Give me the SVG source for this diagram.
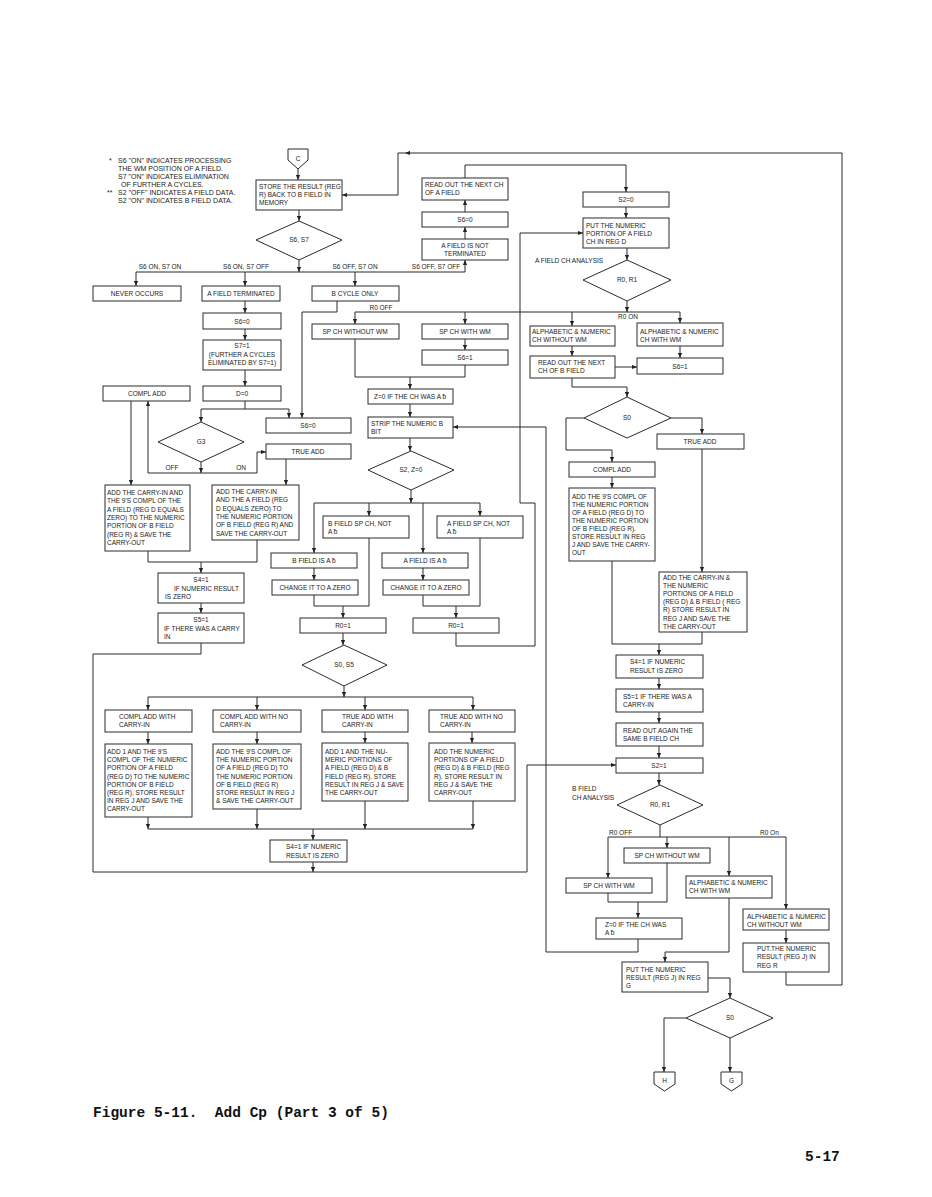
<svg xmlns="http://www.w3.org/2000/svg" width="932" height="1197" viewBox="0 0 932 1197">
<defs>
<marker id="a" viewBox="0 0 6 6" refX="6" refY="3" markerWidth="5" markerHeight="5" orient="auto" markerUnits="userSpaceOnUse"><path d="M0,0.5 L6,3 L0,5.5 z" fill="#222"/></marker>
<style>
.b{fill:#fff;stroke:#2a2a2a;stroke-width:1}
.t{font-family:"Liberation Sans",Arial,"DejaVu Sans",sans-serif;font-size:6.5px;fill:#222}
.n{font-size:7px}
.c{text-anchor:middle}
.l{fill:none;stroke:#2a2a2a;stroke-width:1}
.m{marker-end:url(#a)}
.ti{font-family:"Liberation Mono","Courier New",monospace;font-weight:bold;font-size:14.5px;fill:#111}
</style>
</defs>
<rect width="932" height="1197" fill="#fff"/>

<g id="connectors" class="l">
<path class="m" d="M298,169 V180"/>
<path class="m" d="M299,210 V221"/>
<path class="m" d="M299,260 V272"/>
<path d="M136,272 H465"/>
<path class="m" d="M136,272 V286"/>
<path class="m" d="M245,272 V286"/>
<path class="m" d="M355,272 V286"/>
<path class="m" d="M465,272 V260"/>
<path class="m" d="M465,239 V227"/>
<path class="m" d="M465,212 V200"/>
<path class="m" d="M465,178 V165 H626 V192"/>
<path class="m" d="M626,207 V218"/>
<path class="m" d="M627,248 V260"/>
<path class="m" d="M627,301 V312"/>
<path d="M355,312 H680"/>
<path class="m" d="M355,312 V324"/>
<path class="m" d="M465,312 V324"/>
<path class="m" d="M572,312 V326"/>
<path class="m" d="M680,312 V323"/>
<path class="m" d="M465,339 V350"/>
<path d="M355,339 V377 H465 V365"/>
<path class="m" d="M410,377 V389"/>
<path class="m" d="M410,404 V417"/>
<path class="m" d="M410,438 V451"/>
<path class="m" d="M411,490 V503"/>
<path d="M314,503 H480"/>
<path class="m" d="M314,503 V553"/>
<path class="m" d="M369,503 V516"/>
<path class="m" d="M423,503 V553"/>
<path class="m" d="M480,503 V516"/>
<path class="m" d="M314,568 V580"/>
<path class="m" d="M423,568 V580"/>
<path d="M314,595 V606 H369 V538"/>
<path class="m" d="M343,606 V618"/>
<path d="M423,595 V606 H480 V538"/>
<path class="m" d="M456,606 V618"/>
<path class="m" d="M343,633 V645"/>
<path class="m" d="M456,633 V646 H535 V503 H520 V233 H583"/>
<path class="m" d="M344,686 V697"/>
<path d="M148,697 H473"/>
<path class="m" d="M148,697 V710"/>
<path class="m" d="M257,697 V710"/>
<path class="m" d="M365,697 V710"/>
<path class="m" d="M473,697 V710"/>
<path class="m" d="M148,732 V744"/>
<path class="m" d="M257,732 V744"/>
<path class="m" d="M365,732 V743"/>
<path class="m" d="M472,732 V743"/>
<path class="m" d="M148,817 V829"/>
<path class="m" d="M257,809 V829"/>
<path class="m" d="M365,801 V829"/>
<path class="m" d="M473,801 V829"/>
<path d="M148,829 H473"/>
<path class="m" d="M313,829 V840"/>
<path class="m" d="M313,862 V872"/>
<path class="m" d="M201,643 V654 H93 V872 H527 V765 H616"/>
<path class="m" d="M245,301 V313"/>
<path class="m" d="M245,329 V340"/>
<path class="m" d="M245,370 V386"/>
<path d="M245,401 V409"/>
<path d="M201,409 H289"/>
<path class="m" d="M201,409 V422"/>
<path class="m" d="M289,409 V418"/>
<path class="m" d="M337,301 V312 H302 V418"/>
<path class="m" d="M201,462 V473"/>
<path d="M148,473 H257"/>
<path class="m" d="M148,473 V401"/>
<path class="m" d="M257,473 V452 H266"/>
<path class="m" d="M131,401 V485"/>
<path class="m" d="M286,459 V485"/>
<path d="M148,551 V562 H257 V540"/>
<path class="m" d="M201,562 V573"/>
<path class="m" d="M201,603 V613"/>
<path class="m" d="M680,346 V358"/>
<path class="m" d="M572,346 V356"/>
<path class="m" d="M615,367 H637"/>
<path class="m" d="M572,378 V387 H627 V397"/>
<path class="m" d="M584,418 H566 V450 H612 V462"/>
<path class="m" d="M671,418 H702 V434"/>
<path class="m" d="M612,477 V488"/>
<path class="m" d="M702,449 V572"/>
<path d="M612,561 V644 H702 V632"/>
<path class="m" d="M659,644 V655"/>
<path class="m" d="M659,678 V689"/>
<path class="m" d="M659,712 V723"/>
<path class="m" d="M659,746 V758"/>
<path class="m" d="M659,773 V785"/>
<path d="M660,825 V837"/>
<path d="M608,837 H786"/>
<path class="m" d="M608,837 V878"/>
<path class="m" d="M667,837 V848"/>
<path class="m" d="M729,837 V876"/>
<path class="m" d="M786,837 V909"/>
<path d="M608,893 V902 H667 V863"/>
<path class="m" d="M638,902 V918"/>
<path class="m" d="M638,939 V952 H546 V427 H453"/>
<path class="m" d="M729,898 V952 H665 V962"/>
<path class="m" d="M786,930 V943"/>
<path class="m" d="M786,972 V985 H842 V153 H405"/>
<path class="m" d="M405,153 H398 V195 H342"/>
<path class="m" d="M708,978 H730 V998"/>
<path class="m" d="M686,1018 H664 V1072"/>
<path class="m" d="M730,1038 V1072"/>
</g>

<g id="labels" class="t">
<text x="160" y="269" class="c">S6 ON, S7 ON</text>
<text x="246" y="269" class="c">S6 ON,  S7 OFF</text>
<text x="355" y="269" class="c">S6 OFF,  S7 ON</text>
<text x="436" y="269" class="c">S6 OFF, S7 OFF</text>
<text x="381" y="309.5" class="c">R0 OFF</text>
<text x="628" y="319" class="c">R0 ON</text>
<text x="535" y="263">A FIELD CH ANALYSIS</text>
<text x="172" y="470" class="c">OFF</text>
<text x="241" y="470" class="c">ON</text>
<text x="572" y="791">B FIELD</text>
<text x="572" y="800">CH ANALYSIS</text>
<text x="609" y="835">R0 OFF</text>
<text x="760" y="835">R0 On</text>
</g>

<g id="notes" class="t n">
<text x="109" y="163">*</text>
<text x="118" y="163">S6 "ON" INDICATES PROCESSING</text>
<text x="118" y="171">THE WM POSITION OF A FIELD.</text>
<text x="118" y="179">S7 "ON" INDICATES ELIMINATION</text>
<text x="121" y="187">OF FURTHER A CYCLES.</text>
<text x="107" y="195">**</text>
<text x="118" y="195">S2 "OFF" INDICATES A FIELD DATA.</text>
<text x="118" y="203">S2 "ON" INDICATES B FIELD DATA.</text>
</g>

<g id="n_C"><polygon class="b" points="288,149 308,149 308,160 298,169 288,160"/><text class="t c" x="298" y="161">C</text></g>
<g id="n_store"><rect class="b" x="256" y="180" width="86" height="30"/><text class="t" x="259" y="189">STORE THE RESULT (REG</text><text class="t" x="259" y="197">R) BACK TO B FIELD IN</text><text class="t" x="259" y="205">MEMORY</text></g>
<g id="n_s6s7"><polygon class="b" points="299,221 342,240 299,260 256,240"/><text class="t c" x="299" y="242">S6, S7</text></g>
<g id="n_never"><rect class="b" x="93" y="286" width="88" height="15"/><text class="t c" x="137" y="296">NEVER OCCURS</text></g>
<g id="n_aterm"><rect class="b" x="202" y="286" width="78" height="15"/><text class="t c" x="241" y="296">A FIELD TERMINATED</text></g>
<g id="n_bcyc"><rect class="b" x="312" y="286" width="87" height="15"/><text class="t c" x="355" y="296">B CYCLE ONLY</text></g>
<g id="n_anot"><rect class="b" x="422" y="239" width="86" height="21"/><text class="t c" x="465" y="248">A FIELD IS NOT</text><text class="t c" x="465" y="256">TERMINATED</text></g>
<g id="n_s60a"><rect class="b" x="422" y="212" width="86" height="15"/><text class="t c" x="465" y="222">S6=0</text></g>
<g id="n_readA"><rect class="b" x="422" y="178" width="86" height="22"/><text class="t" x="425" y="186.5">READ OUT THE NEXT CH</text><text class="t" x="425" y="194.5">OF A FIELD</text></g>
<g id="n_s20"><rect class="b" x="583" y="192" width="86" height="15"/><text class="t c" x="626" y="202">S2=0</text></g>
<g id="n_putA"><rect class="b" x="583" y="218" width="86" height="30"/><text class="t" x="586" y="228">PUT THE NUMERIC</text><text class="t" x="586" y="236">PORTION OF A FIELD</text><text class="t" x="586" y="244">CH IN REG D</text></g>
<g id="n_r0r1a"><polygon class="b" points="627,260 671,280 627,301 583,280"/><text class="t c" x="627" y="282">R0, R1</text></g>
<g id="n_spwoA"><rect class="b" x="312" y="324" width="87" height="15"/><text class="t c" x="355" y="334">SP CH WITHOUT WM</text></g>
<g id="n_spwA"><rect class="b" x="422" y="324" width="86" height="15"/><text class="t c" x="465" y="334">SP CH WITH WM</text></g>
<g id="n_s61a"><rect class="b" x="422" y="350" width="86" height="15"/><text class="t c" x="465" y="360">S6=1</text></g>
<g id="n_z0a"><rect class="b" x="368" y="389" width="85" height="15"/><text class="t c" x="410" y="399">Z=0 IF THE CH WAS A ƀ</text></g>
<g id="n_strip"><rect class="b" x="368" y="417" width="85" height="21"/><text class="t" x="371" y="426">STRIP THE NUMERIC B</text><text class="t" x="371" y="434">BIT</text></g>
<g id="n_s2z0"><polygon class="b" points="411,451 454,470 411,490 368,470"/><text class="t c" x="411" y="472">S2, Z=0</text></g>
<g id="n_bsp"><rect class="b" x="323" y="516" width="86" height="22"/><text class="t" x="328" y="525.5">B FIELD SP CH,  NOT</text><text class="t" x="328" y="533.5">A ƀ</text></g>
<g id="n_asp"><rect class="b" x="437" y="516" width="86" height="22"/><text class="t" x="447" y="525.5">A FIELD SP CH,  NOT</text><text class="t" x="447" y="533.5">A ƀ</text></g>
<g id="n_bisb"><rect class="b" x="271" y="553" width="86" height="15"/><text class="t c" x="314" y="563">B FIELD IS A ƀ</text></g>
<g id="n_aisb"><rect class="b" x="382" y="553" width="86" height="15"/><text class="t c" x="425" y="563">A FIELD IS A ƀ</text></g>
<g id="n_chgB"><rect class="b" x="272" y="580" width="86" height="15"/><text class="t c" x="315" y="590">CHANGE IT TO A ZERO</text></g>
<g id="n_chgA"><rect class="b" x="383" y="580" width="86" height="15"/><text class="t c" x="426" y="590">CHANGE IT TO A ZERO</text></g>
<g id="n_r01L"><rect class="b" x="300" y="618" width="86" height="15"/><text class="t c" x="343" y="628">R0=1</text></g>
<g id="n_r01R"><rect class="b" x="413" y="618" width="86" height="15"/><text class="t c" x="456" y="628">R0=1</text></g>
<g id="n_s0s5"><polygon class="b" points="344,645 387,665 344,686 302,665"/><text class="t c" x="344" y="667">S0, S5</text></g>

<g id="n_cawc"><rect class="b" x="105" y="710" width="87" height="22"/><text class="t" x="119" y="718.5">COMPL ADD WITH</text><text class="t" x="119" y="726.5">CARRY-IN</text></g>
<g id="n_cawnc"><rect class="b" x="213" y="710" width="88" height="22"/><text class="t" x="220" y="718.5">COMPL ADD WITH NO</text><text class="t" x="220" y="726.5">CARRY-IN</text></g>
<g id="n_tawc"><rect class="b" x="322" y="710" width="86" height="22"/><text class="t" x="342" y="718.5">TRUE ADD WITH</text><text class="t" x="342" y="726.5">CARRY-IN</text></g>
<g id="n_tawnc"><rect class="b" x="429" y="710" width="86" height="22"/><text class="t" x="440" y="718.5">TRUE ADD WITH NO</text><text class="t" x="440" y="726.5">CARRY-IN</text></g>

<g id="n_add1c"><rect class="b" x="105" y="744" width="87" height="73"/>
<text class="t" x="107" y="754">ADD 1 AND THE 9'S</text><text class="t" x="107" y="762.2">COMPL OF THE NUMERIC</text><text class="t" x="107" y="770.4">PORTION OF A FIELD</text><text class="t" x="107" y="778.6">(REG D) TO THE NUMERIC</text><text class="t" x="107" y="786.8">PORTION OF B FIELD</text><text class="t" x="107" y="795">(REG R),  STORE RESULT</text><text class="t" x="107" y="803.2">IN REG J AND SAVE THE</text><text class="t" x="107" y="811.4">CARRY-OUT</text></g>
<g id="n_add9c"><rect class="b" x="213" y="744" width="88" height="65"/>
<text class="t" x="216" y="754">ADD THE 9'S COMPL OF</text><text class="t" x="216" y="762.2">THE NUMERIC PORTION</text><text class="t" x="216" y="770.4">OF A FIELD (REG D) TO</text><text class="t" x="216" y="778.6">THE NUMERIC PORTION</text><text class="t" x="216" y="786.8">OF B FIELD (REG R)</text><text class="t" x="216" y="795">STORE RESULT IN REG J</text><text class="t" x="216" y="803.2">&amp; SAVE THE CARRY-OUT</text></g>
<g id="n_add1n"><rect class="b" x="322" y="743" width="86" height="58"/>
<text class="t" x="325" y="754">ADD 1 AND THE NU-</text><text class="t" x="325" y="762.2">MERIC PORTIONS OF</text><text class="t" x="325" y="770.4">A FIELD (REG D) &amp; B</text><text class="t" x="325" y="778.6">FIELD (REG R).  STORE</text><text class="t" x="325" y="786.8">RESULT IN REG J &amp; SAVE</text><text class="t" x="325" y="795">THE CARRY-OUT</text></g>
<g id="n_addn"><rect class="b" x="429" y="743" width="86" height="58"/>
<text class="t" x="434" y="754">ADD THE NUMERIC</text><text class="t" x="434" y="762.2">PORTIONS OF A FIELD</text><text class="t" x="434" y="770.4">(REG D) &amp; B FIELD (REG</text><text class="t" x="434" y="778.6">R).  STORE RESULT IN</text><text class="t" x="434" y="786.8">REG J &amp; SAVE THE</text><text class="t" x="434" y="795">CARRY-OUT</text></g>
<g id="n_s41b"><rect class="b" x="270" y="840" width="77" height="22"/><text class="t" x="286" y="849">S4=1  IF NUMERIC</text><text class="t" x="286" y="857.5">RESULT IS ZERO</text></g>

<g id="n_s60b"><rect class="b" x="203" y="313" width="78" height="16"/><text class="t c" x="242" y="323.5">S6=0</text></g>
<g id="n_s71"><rect class="b" x="203" y="340" width="78" height="30"/><text class="t c" x="242" y="348">S7=1</text><text class="t c" x="242" y="356.5">(FURTHER A CYCLES</text><text class="t c" x="242" y="365">ELIMINATED BY S7=1)</text></g>
<g id="n_d0"><rect class="b" x="203" y="386" width="78" height="15"/><text class="t c" x="242" y="396">D=0</text></g>
<g id="n_cadd"><rect class="b" x="103" y="386" width="87" height="15"/><text class="t c" x="147" y="396">COMPL ADD</text></g>
<g id="n_g3"><polygon class="b" points="201,422 244,442 201,462 158,442"/><text class="t c" x="201" y="444">G3</text></g>
<g id="n_s60c"><rect class="b" x="266" y="418" width="85" height="15"/><text class="t c" x="308" y="428">S6=0</text></g>
<g id="n_tadd"><rect class="b" x="266" y="444" width="85" height="15"/><text class="t c" x="308" y="454">TRUE ADD</text></g>
<g id="n_addci9"><rect class="b" x="105" y="485" width="85" height="66"/>
<text class="t" x="107" y="495">ADD THE CARRY-IN AND</text><text class="t" x="107" y="503.3">THE 9'S COMPL OF THE</text><text class="t" x="107" y="511.6">A FIELD (REG D EQUALS</text><text class="t" x="107" y="519.9">ZERO) TO THE NUMERIC</text><text class="t" x="107" y="528.2">PORTION OF B FIELD</text><text class="t" x="107" y="536.5">(REG R) &amp; SAVE THE</text><text class="t" x="107" y="544.8">CARRY-OUT</text></g>
<g id="n_addciA"><rect class="b" x="212" y="485" width="87" height="55"/>
<text class="t" x="216" y="494">ADD THE CARRY-IN</text><text class="t" x="216" y="502.3">AND THE A FIELD (REG</text><text class="t" x="216" y="510.6">D EQUALS ZERO) TO</text><text class="t" x="216" y="518.9">THE NUMERIC PORTION</text><text class="t" x="216" y="527.2">OF B FIELD (REG R) AND</text><text class="t" x="216" y="535.5">SAVE THE CARRY-OUT</text></g>
<g id="n_s41a"><rect class="b" x="158" y="573" width="86" height="30"/><text class="t c" x="201" y="582">S4=1</text><text class="t" x="174" y="590.5">IF NUMERIC RESULT</text><text class="t" x="165" y="598.5">IS ZERO</text></g>
<g id="n_s51a"><rect class="b" x="158" y="613" width="86" height="30"/><text class="t c" x="201" y="622">S5=1</text><text class="t" x="164" y="630.5">IF THERE WAS A CARRY</text><text class="t" x="164" y="638.8">IN</text></g>

<g id="n_anwo"><rect class="b" x="530" y="326" width="85" height="20"/><text class="t" x="532" y="333.5">ALPHABETIC &amp; NUMERIC</text><text class="t" x="532" y="341.5">CH WITHOUT WM</text></g>
<g id="n_anw"><rect class="b" x="637" y="323" width="86" height="23"/><text class="t" x="640" y="333.5">ALPHABETIC &amp; NUMERIC</text><text class="t" x="640" y="341.5">CH WITH WM</text></g>
<g id="n_s61b"><rect class="b" x="637" y="358" width="86" height="16"/><text class="t c" x="680" y="368.5">S6=1</text></g>
<g id="n_readB"><rect class="b" x="530" y="356" width="85" height="22"/><text class="t" x="538" y="364.5">READ OUT THE NEXT</text><text class="t" x="538" y="373">CH OF B FIELD</text></g>
<g id="n_s0a"><polygon class="b" points="627,397 671,418 627,438 584,418"/><text class="t c" x="627" y="420">S0</text></g>
<g id="n_taddR"><rect class="b" x="657" y="434" width="87" height="15"/><text class="t c" x="700" y="444">TRUE ADD</text></g>
<g id="n_caddR"><rect class="b" x="569" y="462" width="86" height="15"/><text class="t c" x="612" y="472">COMPL ADD</text></g>
<g id="n_add9R"><rect class="b" x="569" y="488" width="86" height="73"/>
<text class="t" x="572" y="498.5">ADD THE 9'S COMPL OF</text><text class="t" x="572" y="506.6">THE NUMERIC PORTION</text><text class="t" x="572" y="514.7">OF A FIELD (REG D) TO</text><text class="t" x="572" y="522.8">THE NUMERIC PORTION</text><text class="t" x="572" y="530.9">OF B FIELD (REG R).</text><text class="t" x="572" y="539">STORE RESULT IN REG</text><text class="t" x="572" y="547.1">J AND SAVE THE CARRY-</text><text class="t" x="572" y="555.2">OUT</text></g>
<g id="n_addciR"><rect class="b" x="659" y="572" width="88" height="60"/>
<text class="t" x="663" y="579.5">ADD THE CARRY-IN &amp;</text><text class="t" x="663" y="587.7">THE NUMERIC</text><text class="t" x="663" y="595.9">PORTIONS OF A FIELD</text><text class="t" x="663" y="604.1">(REG D) &amp; B FIELD ( REG</text><text class="t" x="663" y="612.3">R) STORE RESULT IN</text><text class="t" x="663" y="620.5">REG J AND SAVE THE</text><text class="t" x="663" y="628.7">THE CARRY-OUT</text></g>
<g id="n_s41R"><rect class="b" x="616" y="655" width="87" height="23"/><text class="t" x="630" y="664">S4=1  IF NUMERIC</text><text class="t" x="630" y="672.5">RESULT IS ZERO</text></g>
<g id="n_s51R"><rect class="b" x="616" y="689" width="87" height="23"/><text class="t" x="623" y="698.5">S5=1  IF THERE WAS A</text><text class="t" x="623" y="707">CARRY-IN</text></g>
<g id="n_readAg"><rect class="b" x="616" y="723" width="87" height="23"/><text class="t" x="623" y="732.5">READ OUT AGAIN THE</text><text class="t" x="623" y="741">SAME B FIELD CH</text></g>
<g id="n_s21"><rect class="b" x="616" y="758" width="87" height="15"/><text class="t c" x="659" y="768">S2=1</text></g>
<g id="n_r0r1b"><polygon class="b" points="660,785 703,805 660,825 617,805"/><text class="t c" x="660" y="807">R0, R1</text></g>
<g id="n_spwoB"><rect class="b" x="624" y="848" width="86" height="15"/><text class="t c" x="667" y="858">SP CH WITHOUT WM</text></g>
<g id="n_spwB"><rect class="b" x="566" y="878" width="86" height="15"/><text class="t c" x="609" y="888">SP CH WITH WM</text></g>
<g id="n_anwB"><rect class="b" x="686" y="876" width="86" height="22"/><text class="t" x="689" y="885">ALPHABETIC &amp; NUMERIC</text><text class="t" x="689" y="893">CH WITH WM</text></g>
<g id="n_anwoB"><rect class="b" x="743" y="909" width="86" height="21"/><text class="t" x="747" y="918.5">ALPHABETIC &amp; NUMERIC</text><text class="t" x="747" y="926.5">CH WITHOUT WM</text></g>
<g id="n_z0b"><rect class="b" x="596" y="918" width="86" height="21"/><text class="t" x="605" y="926.5">Z=0  IF THE CH WAS</text><text class="t" x="605" y="934.5">A ƀ</text></g>
<g id="n_putR"><rect class="b" x="743" y="943" width="86" height="29"/><text class="t" x="757" y="951">PUT.THE NUMERIC</text><text class="t" x="757" y="959.3">RESULT (REG J) IN</text><text class="t" x="757" y="967.6">REG R</text></g>
<g id="n_putG"><rect class="b" x="622" y="962" width="86" height="30"/><text class="t" x="626" y="971.5">PUT THE NUMERIC</text><text class="t" x="626" y="979.8">RESULT (REG J) IN REG</text><text class="t" x="626" y="988.1">G</text></g>
<g id="n_s0b"><polygon class="b" points="730,998 773,1018 730,1038 686,1018"/><text class="t c" x="730" y="1020">S0</text></g>
<g id="n_H"><polygon class="b" points="654,1072 675,1072 675,1084 664.5,1091 654,1084"/><text class="t c" x="664.5" y="1083">H</text></g>
<g id="n_G"><polygon class="b" points="721,1072 742,1072 742,1084 731.5,1091 721,1084"/><text class="t c" x="731.5" y="1083">G</text></g>

<text class="ti" x="93" y="1117" xml:space="preserve">Figure 5-11.  Add Cp (Part 3 of 5)</text>
<text class="ti" x="805" y="1161">5-17</text>
</svg>
